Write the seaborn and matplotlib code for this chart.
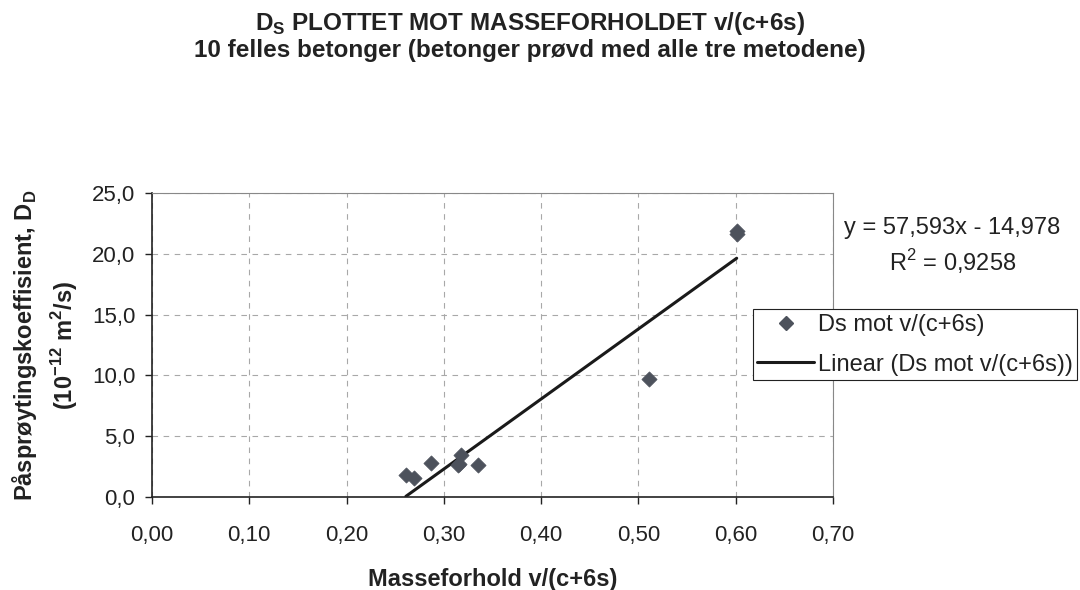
import numpy as np
import pandas as pd
import seaborn as sns
import matplotlib.pyplot as plt
from matplotlib.lines import Line2D
from matplotlib.ticker import FuncFormatter, MultipleLocator

# Values (10 concretes, some overlapping)
ratio = [0.261, 0.269, 0.287, 0.315, 0.318, 0.316, 0.335, 0.511, 0.601, 0.601]
ds_val = [1.8, 1.6, 2.8, 2.6, 3.45, 2.7, 2.6, 9.7, 21.6, 21.9]
slope, intercept, r2 = 57.593, -14.978, 0.9258

df = pd.DataFrame({'ratio': ratio, 'ds': ds_val})

sns.set_style('white')
plt.rcParams['font.family'] = ['Liberation Sans', 'DejaVu Sans']
plt.rcParams['mathtext.fontset'] = 'custom'
plt.rcParams['mathtext.rm'] = 'Liberation Sans'
plt.rcParams['mathtext.bf'] = 'Liberation Sans:bold'

fs = 16
fs_lab = 17
txt = '#222222'

fig = plt.figure(figsize=(10.8, 5.9), dpi=100)
ax = fig.add_axes([0.1407, 0.1576, 0.6306, 0.5153])

pt_color = '#4d525c'
sns.scatterplot(data=df, x='ratio', y='ds', marker='D', s=60, color=pt_color,
                edgecolor=pt_color, linewidth=0.5, ax=ax, zorder=3, legend=False)

# trendline from the displayed coefficients, across the data range
trend_x = np.array([min(ratio), max(ratio)])
trend = pd.DataFrame({'x': trend_x, 'y': slope * trend_x + intercept})
sns.lineplot(data=trend, x='x', y='y', color='#1a1a1a', linewidth=2.2, ax=ax, zorder=2)

ax.set_xlim(0, 0.70)
ax.set_ylim(0, 25)
ax.xaxis.set_major_locator(MultipleLocator(0.1))
ax.yaxis.set_major_locator(MultipleLocator(5))
ax.xaxis.set_major_formatter(FuncFormatter(lambda v, p: f'{v:.2f}'.replace('.', ',')))
ax.yaxis.set_major_formatter(FuncFormatter(lambda v, p: f'{v:.1f}'.replace('.', ',')))
ax.tick_params(axis='both', labelsize=fs, direction='out', length=5, width=1,
               colors=txt, bottom=True, left=True)
ax.tick_params(axis='x', pad=15)
ax.tick_params(axis='y', pad=7)

ax.grid(True, linestyle=(0, (5, 5)), color='#a8a8a8', linewidth=0.8)
ax.set_axisbelow(True)
for s in ['left', 'bottom']:
    ax.spines[s].set_color(txt)
    ax.spines[s].set_linewidth(1.2)
for s in ['top', 'right']:
    ax.spines[s].set_color('#888888')
    ax.spines[s].set_linewidth(0.8)

ax.set_xlabel('Masseforhold v/(c+6s)', fontsize=fs_lab, fontweight='bold', color=txt)
ax.xaxis.set_label_coords(0.5, -0.235)
ax.set_ylabel('Påsprøytingskoeffisient, D$_\\mathbf{D}$\n(10$^{\\mathbf{-12}}$ m$^\\mathbf{2}$/s)',
              fontsize=fs_lab, fontweight='bold', color=txt, linespacing=1.45)
ax.yaxis.set_label_coords(-0.105, 0.5)

fig.text(0.491, 0.949, 'D$_\\mathbf{S}$ PLOTTET MOT MASSEFORHOLDET v/(c+6s)',
         ha='center', va='baseline', fontsize=17.5, fontweight='bold', color=txt)
fig.text(0.491, 0.903, '10 felles betonger (betonger prøvd med alle tre metodene)',
         ha='center', va='baseline', fontsize=17.5, fontweight='bold', color=txt)

eq = f'y = {slope:.3f}x - {abs(intercept):.3f}'.replace('.', ',')
r2txt = f'R$^2$ = {r2:.4f}'.replace('.', ',')
fig.text(0.882, 0.614, eq, ha='center', va='center', fontsize=fs_lab, color=txt)
fig.text(0.882, 0.556, r2txt, ha='center', va='center', fontsize=fs_lab, color=txt)

handles = [Line2D([], [], marker='D', color=pt_color, linestyle='none', markersize=7),
           Line2D([], [], color='#1a1a1a', linewidth=2.2)]
leg = fig.legend(handles, ['Ds mot v/(c+6s)', 'Linear (Ds mot v/(c+6s))'],
                 loc='upper left', bbox_to_anchor=(0.697, 0.476), fontsize=fs_lab,
                 frameon=True, fancybox=False, edgecolor=txt, framealpha=1,
                 borderpad=0.2, handlelength=2.4, handletextpad=0.15, labelspacing=0.75,
                 borderaxespad=0)
leg.get_frame().set_linewidth(0.8)
for t in leg.get_texts():
    t.set_color(txt)

fig.savefig('out.png', dpi=100, facecolor='white')
